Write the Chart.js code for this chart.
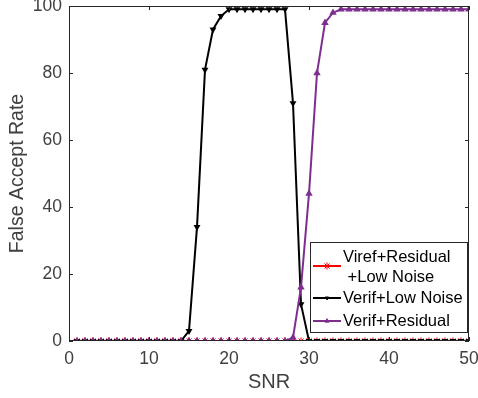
<!DOCTYPE html>
<html>
<head>
<meta charset="utf-8">
<script src="https://cdn.jsdelivr.net/npm/chart.js@4.4.0/dist/chart.umd.min.js"></script>
<style>
  html, body { margin: 0; padding: 0; background: #fff; }
  #wrap { width: 478px; height: 398px; position: relative; }
</style>
</head>
<body>
<div id="wrap"><canvas id="chart"></canvas></div>
<script>
// --- Data ---
const snr = [];
for (let i = 1; i <= 50; i++) snr.push(i);

const virefResidualLowNoise = [
  0,0,0,0,0,0,0,0,0,0, 0,0,0,0,0,0,0,0,0,0,
  0,0,0,0,0,0,0,0,0,0, 0,0,0,0,0,0,0,0,0,0,
  0,0,0,0,0,0,0,0,0,0
];
const verifLowNoise = [
  0,0,0,0,0,0,0,0,0,0, 0,0,0,0,3,34,81,93,97,99,
  99,99,99,99,99,99,99,71,11,0, 0,0,0,0,0,0,0,0,0,0,
  0,0,0,0,0,0,0,0,0,0
];
const verifResidual = [
  0,0,0,0,0,0,0,0,0,0, 0,0,0,0,0,0,0,0,0,0,
  0,0,0,0,0,0,0,1,16,44, 80,95,98,99,99,99,99,99,99,99,
  99,99,99,99,99,99,99,99,99,99
];
const xTicks = [0, 10, 20, 30, 40, 50];
const yTicks = [0, 20, 40, 60, 80, 100];

const axisColor = '#262626';
const textColor = '#404040';
const fontFamily = "'Liberation Sans', Arial, Helvetica, sans-serif";

const toPts = (arr) => arr.map((v, i) => ({ x: snr[i], y: v }));

// --- Box, inward ticks and legend ---
const boxPlugin = {
  id: 'boxPlugin',
  afterDraw(chart) {
    const ctx = chart.ctx;
    const a = chart.chartArea;
    const xs = chart.scales.x, ys = chart.scales.y;
    ctx.save();
    ctx.strokeStyle = axisColor;
    ctx.lineWidth = 1;
    ctx.beginPath();
    ctx.rect(a.left + 0.5, a.top + 0.5, a.right - a.left - 1, a.bottom - a.top - 1);
    ctx.stroke();
    const tl = 4;
    ctx.beginPath();
    xTicks.forEach(t => {
      const px = Math.round(xs.getPixelForValue(t)) + 0.5;
      ctx.moveTo(px, a.bottom); ctx.lineTo(px, a.bottom - tl);
      ctx.moveTo(px, a.top); ctx.lineTo(px, a.top + tl);
    });
    yTicks.forEach(t => {
      const py = Math.round(ys.getPixelForValue(t)) + 0.5;
      ctx.moveTo(a.left, py); ctx.lineTo(a.left + tl, py);
      ctx.moveTo(a.right, py); ctx.lineTo(a.right - tl, py);
    });
    ctx.stroke();

    // legend box
    const lx = 310.5, ly = 242.5, lw = 157, lh = 90;
    ctx.fillStyle = '#fff';
    ctx.fillRect(lx, ly, lw, lh);
    ctx.strokeStyle = axisColor;
    ctx.strokeRect(lx, ly, lw, lh);

    const items = [
      { lines: ['Viref+Residual', ' +Low Noise'], ds: chart.data.datasets[2], y: 257, my: 266 },
      { lines: ['Verif+Low Noise'], ds: chart.data.datasets[1], y: 298, my: 298 },
      { lines: ['Verif+Residual'], ds: chart.data.datasets[0], y: 321, my: 321 }
    ];
    ctx.font = '16.5px ' + fontFamily;
    ctx.textBaseline = 'middle';
    ctx.textAlign = 'left';
    items.forEach(it => {
      ctx.strokeStyle = it.ds.borderColor;
      ctx.fillStyle = it.ds.borderColor;
      ctx.lineWidth = 2;
      ctx.beginPath();
      ctx.moveTo(313, it.my); ctx.lineTo(341, it.my);
      ctx.stroke();
      ctx.lineWidth = 1;
      Chart.helpers.drawPoint(ctx, {
        pointStyle: it.ds.pointStyle, radius: it.ds.pointRadius, borderWidth: 1,
        rotation: it.ds.pointRotation || 0
      }, 327, it.my);
      ctx.fillStyle = '#000';
      it.lines.forEach((s, k) => ctx.fillText(s, 343, it.y + k * 20));
    });
    ctx.restore();
  }
};

new Chart(document.getElementById('chart'), {
  type: 'line',
  data: {
    datasets: [
      {
        label: 'Verif+Residual',
        data: toPts(verifResidual),
        borderColor: '#7e2f8e',
        backgroundColor: '#7e2f8e',
        pointStyle: 'triangle',
        pointRadius: 2.3,
        borderWidth: 2,
        order: 1
      },
      {
        label: 'Verif+Low Noise',
        data: toPts(verifLowNoise),
        borderColor: '#000000',
        backgroundColor: '#000000',
        pointStyle: 'triangle',
        pointRotation: 180,
        pointRadius: 2,
        borderWidth: 2,
        order: 2
      },
      {
        label: 'Viref+Residual +Low Noise',
        data: toPts(virefResidualLowNoise),
        borderColor: '#ff0000',
        backgroundColor: '#ff0000',
        pointStyle: 'star',
        pointRadius: 3.6,
        borderWidth: 2,
        pointBorderWidth: 1,
        order: 3
      }
    ]
  },
  options: {
    responsive: true,
    maintainAspectRatio: false,
    animation: false,
    layout: { padding: { top: 5, right: 9, left: 0, bottom: 0 } },
    plugins: {
      legend: { display: false },
      tooltip: { enabled: false }
    },
    scales: {
      x: {
        type: 'linear',
        min: 0, max: 50,
        afterBuildTicks: (s) => { s.ticks = xTicks.map(v => ({ value: v })); },
        afterFit: (s) => { s.height = 57; s.paddingLeft = 0; s.paddingRight = 0; },
        grid: { display: false, drawTicks: false },
        border: { display: false },
        ticks: { color: textColor, font: { family: fontFamily, size: 17.5 }, padding: 8, maxRotation: 0 },
        title: { display: true, text: 'SNR', color: textColor, font: { family: fontFamily, size: 20 }, padding: { top: 3.5, bottom: 3.5 } }
      },
      y: {
        min: 0, max: 100,
        afterBuildTicks: (s) => { s.ticks = yTicks.map(v => ({ value: v })); },
        afterFit: (s) => { s.width = 69; s.paddingTop = 0; s.paddingBottom = 0; },
        grid: { display: false, drawTicks: false },
        border: { display: false },
        ticks: { color: textColor, font: { family: fontFamily, size: 17.5 }, padding: 7 },
        title: { display: true, text: 'False Accept Rate', color: textColor, font: { family: fontFamily, size: 19.5 }, padding: { top: 5.5, bottom: 5.5 } }
      }
    }
  },
  plugins: [boxPlugin]
});
</script>
</body>
</html>
